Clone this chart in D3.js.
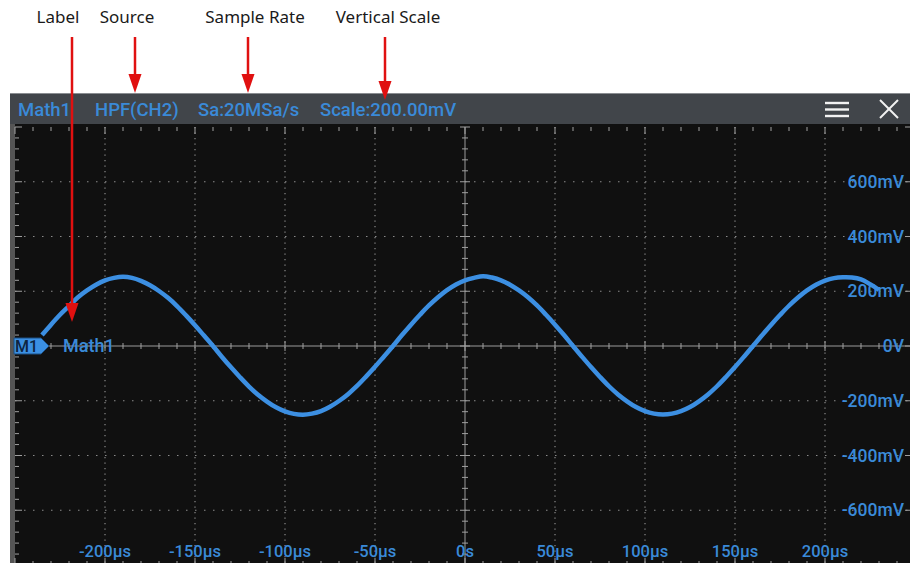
<!DOCTYPE html>
<html>
<head>
<meta charset="utf-8">
<script src="https://cdn.jsdelivr.net/npm/d3@7"></script>
<style>
  body { margin: 0; background: #fff; }
  svg { display: block; }
</style>
</head>
<body>
<svg id="scope"></svg>
<script>
// Waveform: time (µs) and voltage (mV)
const times = [-235, -230, -225, -220, -215, -210, -205, -200, -195, -190, -185, -180, -175, -170, -165, -160,
  -155, -150, -145, -140, -135, -130, -125, -120, -115, -110, -105, -100, -95, -90, -85, -80, -75, -70, -65,
  -60, -55, -50, -45, -40, -35, -30, -25, -20, -15, -10, -5, 0, 5, 10, 15, 20, 25, 30, 35, 40, 45, 50, 55,
  60, 65, 70, 75, 80, 85, 90, 95, 100, 105, 110, 115, 120, 125, 130, 135, 140, 145, 150, 155, 160, 165, 170,
  175, 180, 185, 190, 195, 200, 205, 210, 215, 220, 225, 230];
const volts = [40, 78, 114, 146, 178, 203, 224, 240, 249, 253, 249, 238, 222, 201, 176, 146,
  112, 76, 38, 0, -40, -78, -114, -148, -178, -203, -224, -239, -248, -251, -247, -238, -222, -201, -176,
  -146, -112, -76, -38, 0, 40, 78, 114, 148, 178, 204, 225, 240, 249, 255, 250, 240, 224, 203, 178, 148,
  114, 78, 40, 0, -39, -77, -113, -147, -177, -202, -223, -238, -247, -250, -247, -238, -223, -202, -177,
  -147, -113, -77, -39, 0, 39, 77, 113, 147, 177, 203, 224, 239, 248, 251, 250, 243, 226, 205];

const timeTicks = [-200, -150, -100, -50, 0, 50, 100, 150, 200];
const timeLabels = ["-200µs", "-150µs", "-100µs", "-50µs", "0s", "50µs", "100µs", "150µs", "200µs"];
const voltTicks = [600, 400, 200, 0, -200, -400, -600];
const voltLabels = ["600mV", "400mV", "200mV", "0V", "-200mV", "-400mV", "-600mV"];

const headerItems = ["Math1", "HPF(CH2)", "Sa:20MSa/s", "Scale:200.00mV"];
const headerX = [18, 95, 198, 320];
const notes = ["Label", "Source", "Sample Rate", "Vertical Scale"];
const noteX = [58, 127, 255, 388];
const arrowX = [72, 135, 248, 385];
const arrowTip = [322, 93, 93, 100];

const W = 910, H = 563;
const blue = "#3a8ad8";
const svg = d3.select("#scope").attr("width", W).attr("height", H);

// scope screen geometry
const x = d3.scaleLinear().domain([-250, 250]).range([15, 915]);
const y = d3.scaleLinear().domain([-800, 800]).range([565, 127]);

// screen background
svg.append("rect").attr("x", 10).attr("y", 93).attr("width", 900).attr("height", H - 93).attr("fill", "#555");
svg.append("rect").attr("x", 15).attr("y", 124).attr("width", 895).attr("height", H - 124).attr("fill", "#101010");

// header bar
svg.append("rect").attr("x", 10).attr("y", 93).attr("width", 900).attr("height", 31).attr("fill", "#41454a");
svg.append("line").attr("x1", 10).attr("x2", 910).attr("y1", 93.5).attr("y2", 93.5).attr("stroke", "#8a8d91");

const labFont = "Roboto, 'Open Sans', sans-serif";
svg.selectAll(".hdr").data(headerItems).enter().append("text")
  .attr("x", (d, i) => headerX[i]).attr("y", 116)
  .attr("fill", blue).style("font-family", labFont).style("font-size", "18.5px").style("font-weight", 500)
  .text(d => d);

// menu + close icons
[103, 109.5, 116].forEach(yy => {
  svg.append("line").attr("x1", 825).attr("x2", 849).attr("y1", yy).attr("y2", yy)
    .attr("stroke", "#f2f2f2").attr("stroke-width", 2.4);
});
svg.append("line").attr("x1", 880).attr("y1", 100).attr("x2", 898).attr("y2", 118).attr("stroke", "#f2f2f2").attr("stroke-width", 2);
svg.append("line").attr("x1", 898).attr("y1", 100).attr("x2", 880).attr("y2", 118).attr("stroke", "#f2f2f2").attr("stroke-width", 2);

const plot = svg.append("g");

// dotted grid
plot.selectAll(".vgrid").data(timeTicks.filter(d => d !== 0)).enter().append("line")
  .attr("x1", d => x(d)).attr("x2", d => x(d)).attr("y1", y(800)).attr("y2", y(-800))
  .attr("stroke", "#8a8a8a").attr("stroke-width", 1.2).attr("stroke-dasharray", "1.2,4.3");
plot.selectAll(".hgrid").data(voltTicks.filter(d => d !== 0)).enter().append("line")
  .attr("x1", x(-250)).attr("x2", x(250)).attr("y1", d => y(d)).attr("y2", d => y(d))
  .attr("stroke", "#8a8a8a").attr("stroke-width", 1.2).attr("stroke-dasharray", "1.5,7.5");

// centre axes
plot.append("line").attr("x1", x(-250)).attr("x2", x(250)).attr("y1", y(0)).attr("y2", y(0))
  .attr("stroke", "#9a9a9a").attr("stroke-width", 1);
plot.append("line").attr("x1", x(0)).attr("x2", x(0)).attr("y1", y(800)).attr("y2", y(-800))
  .attr("stroke", "#9a9a9a").attr("stroke-width", 1);

const tStep = d3.range(-250, 251, 10);
const vStep = d3.range(-800, 801, 40);
const tickCol = "#a0a0a0";
// ticks on the centre lines and the edges
tStep.forEach(t => {
  const major = t % 50 === 0;
  const l = major ? 5 : 3;
  plot.append("line").attr("x1", x(t)).attr("x2", x(t)).attr("y1", y(0) - l).attr("y2", y(0) + l).attr("stroke", tickCol);
  plot.append("line").attr("x1", x(t)).attr("x2", x(t)).attr("y1", y(800)).attr("y2", y(800) + (major ? 7 : 4)).attr("stroke", tickCol);
  plot.append("line").attr("x1", x(t)).attr("x2", x(t)).attr("y1", y(-800)).attr("y2", y(-800) - (major ? 7 : 4)).attr("stroke", tickCol);
});
vStep.forEach(v => {
  const major = v % 200 === 0;
  const l = major ? 5 : 3;
  plot.append("line").attr("x1", x(0) - l).attr("x2", x(0) + l).attr("y1", y(v)).attr("y2", y(v)).attr("stroke", tickCol);
  plot.append("line").attr("x1", x(-250)).attr("x2", x(-250) + (major ? 7 : 4)).attr("y1", y(v)).attr("y2", y(v)).attr("stroke", tickCol);
  plot.append("line").attr("x1", x(250)).attr("x2", x(250) - (major ? 10 : 4)).attr("y1", y(v)).attr("y2", y(v)).attr("stroke", tickCol);
});

// axis labels
plot.selectAll(".vlab").data(voltTicks).enter().append("text")
  .attr("x", 904).attr("y", d => y(d) + 6).attr("text-anchor", "end")
  .attr("fill", blue).style("font-family", labFont).style("font-size", "17.5px").style("font-weight", 500)
  .text((d, i) => voltLabels[i]);
plot.selectAll(".tlab").data(timeTicks).enter().append("text")
  .attr("x", d => x(d)).attr("y", 557).attr("text-anchor", "middle")
  .attr("fill", blue).style("font-family", labFont).style("font-size", "16.5px").style("font-weight", 500)
  .text((d, i) => timeLabels[i]);

// waveform
const line = d3.line().x(d => x(d[0])).y(d => y(d[1])).curve(d3.curveCatmullRom);
plot.append("path").datum(times.map((t, i) => [t, volts[i]]))
  .attr("d", line).attr("fill", "none").attr("stroke", "#3c8fe2").attr("stroke-width", 4.5)
  .attr("stroke-linejoin", "round");

// channel marker
svg.append("path").attr("d", `M14,${y(0) - 8}H41L49,${y(0)}L41,${y(0) + 8}H14Z`)
  .attr("fill", "#3b8fe2").attr("stroke", "#1d4f82");
svg.append("text").attr("x", 15).attr("y", y(0) + 6).attr("fill", "#0d2440")
  .style("font-family", labFont).style("font-size", "16px").style("font-weight", 500).text("M1");
svg.append("text").attr("x", 63).attr("y", y(0) + 6).attr("fill", blue)
  .style("font-family", labFont).style("font-size", "18px").style("font-weight", 500).text("Math1");

// annotations
svg.selectAll(".note").data(notes).enter().append("text")
  .attr("x", (d, i) => noteX[i]).attr("y", 23).attr("text-anchor", "middle")
  .attr("fill", "#1a1a1a").style("font-family", "'Noto Sans', 'Open Sans', sans-serif").style("font-size", "17px")
  .text(d => d);
arrowX.forEach((ax, i) => {
  const tip = arrowTip[i];
  svg.append("line").attr("x1", ax).attr("x2", ax).attr("y1", 37).attr("y2", tip - 14)
    .attr("stroke", "#e01010").attr("stroke-width", 2.5);
  svg.append("path").attr("d", `M${ax - 6.5},${tip - 19}L${ax + 6.5},${tip - 19}L${ax},${tip}Z`).attr("fill", "#e01010");
});
</script>
</body>
</html>
